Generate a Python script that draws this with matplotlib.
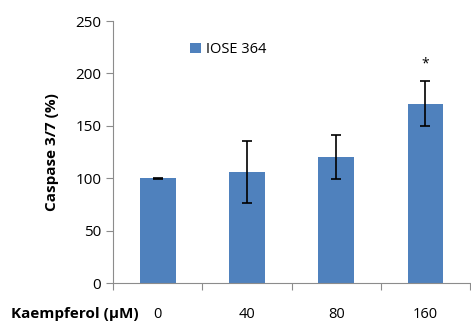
import matplotlib
matplotlib.use('Agg')
from matplotlib import pyplot as plt

doses = ["0", "40", "80", "160"]
caspase = [100, 106, 120, 171]
errors = [0.5, 30, 21, 21.5]
signif = ["", "", "", "*"]

plt.rcParams['font.family'] = ['Open Sans', 'DejaVu Sans']

fig = plt.figure(figsize=(4.71, 3.24), dpi=100)
ax = fig.add_axes([0.24, 0.1265, 0.758, 0.8085])

x = list(range(len(doses)))
ax.bar(x, caspase, width=0.4, color="#4F81BD", label="IOSE 364", zorder=2)
ax.errorbar(x, caspase, yerr=errors, fmt="none", ecolor="black", elinewidth=1.2,
            capsize=3.5, capthick=1.2, zorder=3)
for xi, v, e, s in zip(x, caspase, errors, signif):
    if s:
        ax.text(xi, v + e + 9, s, ha="center", va="bottom", fontsize=10)

ax.set_xlim(-0.5, len(doses) - 0.5)
ax.set_ylim(0, 250)
ax.set_yticks(range(0, 251, 50))
ax.set_xticks([i - 0.5 for i in range(len(doses) + 1)])
ax.set_xticklabels([])
for xi, d in zip(x, doses):
    ax.text(xi, -0.12, d, transform=ax.get_xaxis_transform(), ha="center", va="center", fontsize=10.5)
ax.text(-0.285, -0.12, "Kaempferol (\u03bcM)", transform=ax.transAxes, ha="left", va="center",
        fontsize=11, fontweight="bold")

for side in ["top", "right"]:
    ax.spines[side].set_visible(False)
for side in ["left", "bottom"]:
    ax.spines[side].set_color("#8c8c8c")
ax.tick_params(axis="both", colors="#8c8c8c", labelcolor="black", labelsize=11, length=5)
ax.set_ylabel("Caspase 3/7 (%)", fontsize=11, fontweight="bold", labelpad=12)

ax.legend(loc="upper left", bbox_to_anchor=(0.18, 0.97), frameon=False, fontsize=10.5,
          handlelength=0.7, handleheight=0.7, handletextpad=0.4)

fig.savefig("out.png", dpi=100)
